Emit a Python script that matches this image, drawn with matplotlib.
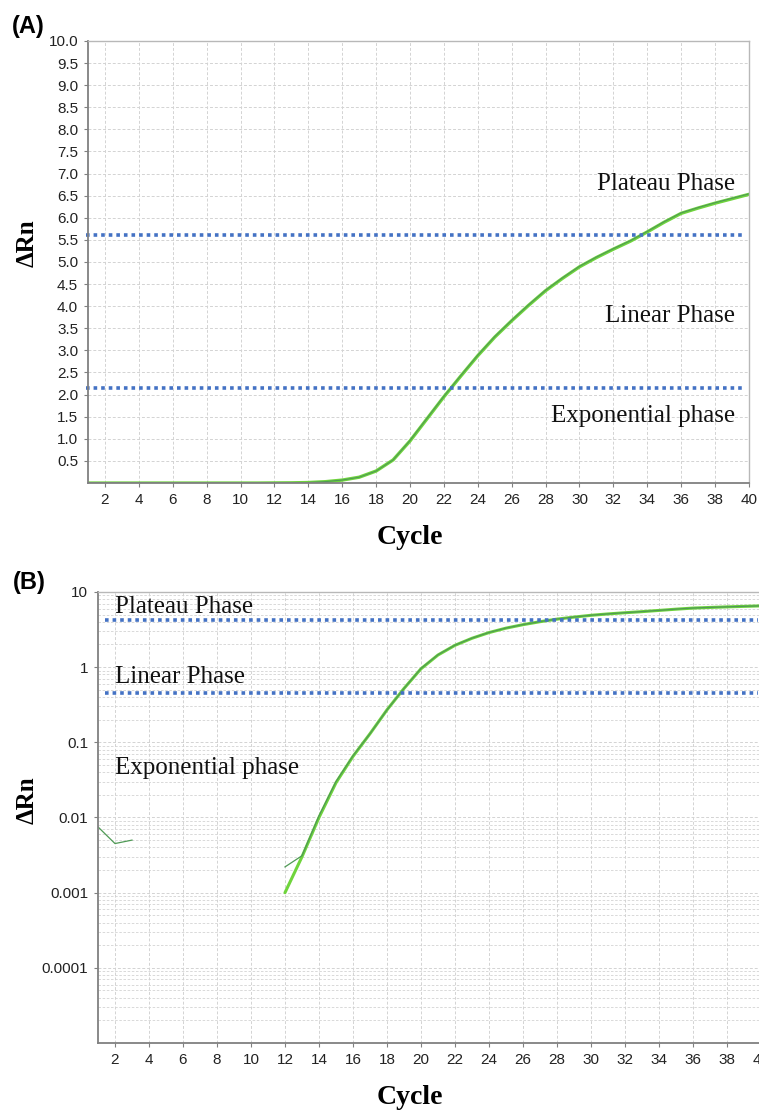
import numpy as np
import matplotlib
matplotlib.use("Agg")
import matplotlib.pyplot as plt
from matplotlib.ticker import FixedLocator, LogLocator, NullFormatter

# ---- data ----
cycles = np.arange(1, 41)

# replicate 1 (bright green); non-positive early values are masked on log axis
rn_main = [-0.002, -0.002, -0.002, -0.002, -0.002, -0.002, -0.002, -0.002,
           -0.002, -0.002, -0.002, 0.001, 0.003, 0.01, 0.029, 0.065,
           0.13, 0.27, 0.52, 0.95, 1.45, 1.95, 2.42, 2.88, 3.3,
           3.67, 4.02, 4.35, 4.63, 4.89, 5.1, 5.29, 5.47, 5.68, 5.9,
           6.1, 6.22, 6.33, 6.43, 6.53]
# replicate 2 (darker green)
rn_rep = [0.0075, 0.0045, 0.005, -0.001, -0.001, -0.001, -0.001, -0.001,
          -0.001, -0.001, -0.001, 0.0022, 0.0031, 0.0105, 0.03, 0.066,
          0.13, 0.27, 0.52, 0.96, 1.46, 1.96, 2.43, 2.89, 3.31,
          3.68, 4.03, 4.36, 4.64, 4.9, 5.11, 5.3, 5.48, 5.69, 5.91,
          6.11, 6.23, 6.34, 6.44, 6.54]

thr_a = [5.6, 2.15]          # phase boundaries, linear panel
thr_b = [4.2, 0.45]          # phase boundaries, log panel
phases = ["Plateau Phase", "Linear Phase", "Exponential phase"]
text_y_a = [6.76, 3.78, 1.51]
text_y_b = [6.3, 0.735, 0.045]

xticks = list(range(2, 41, 2))
yticks_a = [0.5 * i for i in range(1, 21)]
yticks_b = [1e-4, 1e-3, 1e-2, 1e-1, 1, 10]
yticklabels_b = ["0.0001", "0.001", "0.01", "0.1", "1", "10"]

GREEN = "#6fd43c"
DARK = "#4f9a55"
BLUE = "#4472c4"
GRID = "#d3d3d3"
SERIF = "Liberation Serif"
SANS = "Liberation Sans"
TICK_FS = 11

fig = plt.figure(figsize=(7.59, 11.19), dpi=100)
ax1 = fig.add_axes([0.1159, 0.5684, 0.8709, 0.3950])
ax2 = fig.add_axes([0.1291, 0.0679, 0.8735, 0.4031])


def style(ax):
    ax.set_xlim(1, 40)
    ax.set_xticks(xticks)
    ax.set_xticklabels([str(t) for t in xticks], fontsize=TICK_FS,
                       family=SANS, color="#222222")
    ax.tick_params(axis="both", which="major", length=3, width=0.8,
                   color="#808080", pad=4, labelsize=TICK_FS)
    ax.tick_params(axis="both", which="minor", length=0)
    ax.grid(True, which="major", color=GRID, ls=(0, (3, 2)), lw=0.7)
    ax.set_axisbelow(True)
    for s in ("left", "bottom"):
        ax.spines[s].set_color("#808080")
        ax.spines[s].set_linewidth(1.3)
    for s in ("top", "right"):
        ax.spines[s].set_color("#b8b8b8")
        ax.spines[s].set_linewidth(1.0)


# ---- (A) linear ----
style(ax1)
ax1.set_ylim(0, 10)
ax1.set_yticks(yticks_a)
ax1.set_yticklabels(["%.1f" % v for v in yticks_a], family=SANS,
                    fontsize=TICK_FS, color="#222222")
ax1.plot(cycles, rn_main, color=GREEN, lw=2.4, solid_capstyle="round")
ax1.plot(cycles, rn_rep, color=DARK, lw=0.8)
for t in thr_a:
    ax1.plot([0.9, 39.6], [t, t], color=BLUE, lw=2.6, ls=(0, (1, 1.1)),
             clip_on=False)
for lab, y in zip(phases, text_y_a):
    ax1.text(39.2, y, lab, ha="right", va="center", family=SERIF,
             fontsize=18, color="#111111")

# ---- (B) log ----
style(ax2)
ax2.set_yscale("log", nonpositive="mask")
ax2.set_ylim(1e-5, 10)
ax2.yaxis.set_major_locator(FixedLocator(yticks_b))
ax2.set_yticklabels(yticklabels_b, family=SANS, fontsize=TICK_FS,
                    color="#222222")
ax2.yaxis.set_minor_locator(LogLocator(base=10, subs=np.arange(2, 10)))
ax2.yaxis.set_minor_formatter(NullFormatter())
ax2.grid(True, which="minor", axis="y", color=GRID, ls=(0, (3, 2)), lw=0.6)
ax2.spines["right"].set_visible(False)
ax2.plot(cycles, rn_main, color=GREEN, lw=2.2, solid_capstyle="round")
ax2.plot(cycles, rn_rep, color=DARK, lw=0.9)
for t in thr_b:
    ax2.plot([1.4, 39.8], [t, t], color=BLUE, lw=2.6, ls=(0, (1, 1.1)))
for lab, y in zip(phases, text_y_b):
    ax2.text(2.0, y, lab, ha="left", va="center", family=SERIF,
             fontsize=18, color="#111111")

# ---- labels ----
fig.text(0.54, 0.520, "Cycle", ha="center", va="center", family=SERIF,
         fontsize=20, fontweight="bold")
fig.text(0.54, 0.019, "Cycle", ha="center", va="center", family=SERIF,
         fontsize=20, fontweight="bold")
fig.text(0.0356, 0.783, "ΔRn", ha="center", va="center", rotation=90,
         family=SERIF, fontsize=18, fontweight="bold")
fig.text(0.0356, 0.285, "ΔRn", ha="center", va="center", rotation=90,
         family=SERIF, fontsize=18, fontweight="bold")
fig.text(12 / 759, 1 - 26 / 1119, "(A)", ha="left", va="center",
         family=SANS, fontsize=17, fontweight="bold")
fig.text(13 / 759, 1 - 582 / 1119, "(B)", ha="left", va="center",
         family=SANS, fontsize=17, fontweight="bold")

fig.savefig("out.png", dpi=100)
